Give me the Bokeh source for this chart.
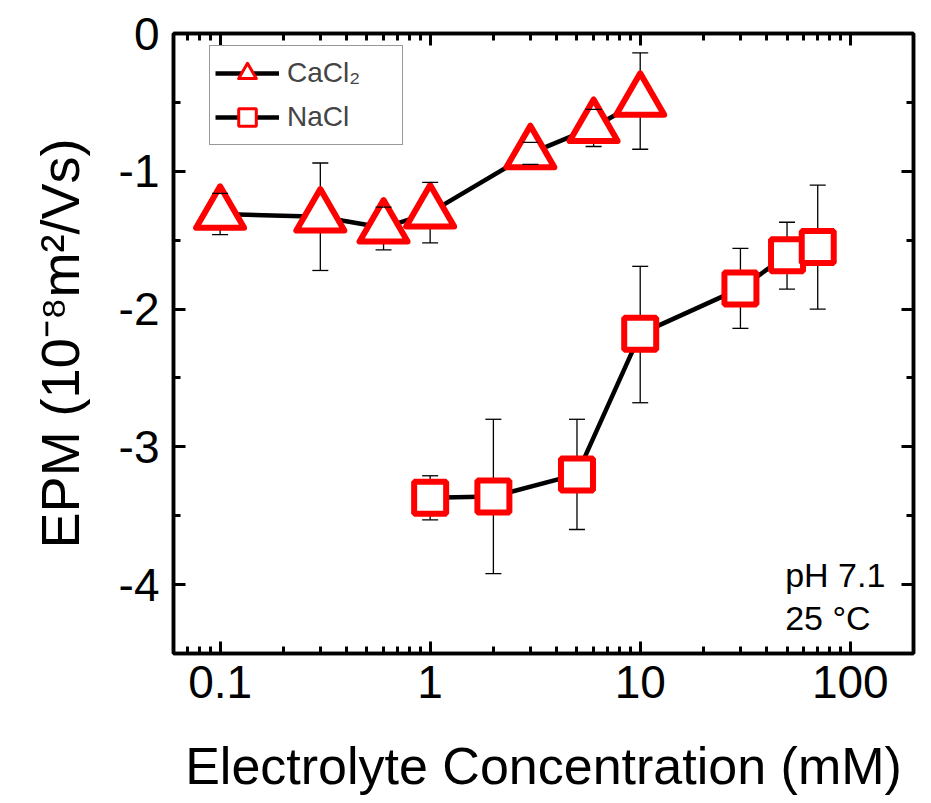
from bokeh.plotting import figure
from bokeh.models import (LogAxis, LinearAxis, FixedTicker, CustomJSTickFormatter,
                          Legend, LegendItem, Label, Range1d)
from bokeh.embed import file_html
from bokeh.resources import INLINE

# ---- data ----
ca_x = [0.1, 0.3, 0.6, 1, 3, 6, 10]
ca_y = [-1.31, -1.33, -1.41, -1.30, -0.87, -0.68, -0.49]
ca_hi = [-1.16, -0.94, -1.26, -1.08, -0.79, -0.55, -0.14]
ca_lo = [-1.46, -1.72, -1.57, -1.52, -0.95, -0.82, -0.84]

na_x = [1, 2, 5, 10, 30, 50, 70]
na_y = [-3.37, -3.36, -3.20, -2.18, -1.85, -1.61, -1.55]
na_hi = [-3.21, -2.80, -2.80, -1.69, -1.56, -1.37, -1.10]
na_lo = [-3.53, -3.92, -3.60, -2.68, -2.14, -1.855, -2.00]

x_major = [0.1, 1, 10, 100]
x_minor = [m * 10.0 ** e for e in range(-2, 3) for m in range(2, 10)]
y_major = [0, -1, -2, -3, -4]
y_minor = [-0.5, -1.5, -2.5, -3.5, -4.5]

FONT = "Liberation Sans"

p = figure(width=931, height=803, x_axis_type="log",
           x_range=Range1d(0.06, 200), y_range=Range1d(-4.5, 0),
           output_backend="svg", toolbar_location=None,
           min_border_left=173, min_border_right=18,
           min_border_top=33, min_border_bottom=150)
p.xgrid.visible = False
p.ygrid.visible = False
p.outline_line_color = "black"
p.outline_line_width = 3.5
p.background_fill_color = "white"
p.border_fill_color = "white"

xticker = FixedTicker(ticks=x_major, minor_ticks=x_minor)
yticker = FixedTicker(ticks=y_major, minor_ticks=y_minor)
xfmt = CustomJSTickFormatter(code="return String(Number(tick.toPrecision(3)));")
yfmt = CustomJSTickFormatter(code="return String(Math.round(tick));")
blank = CustomJSTickFormatter(code="return ' ';")


def style_axis(ax, labels=True):
    ax.axis_line_width = 3.5
    ax.axis_line_color = "black"
    ax.major_tick_in = 12
    ax.major_tick_out = 0
    ax.minor_tick_in = 7
    ax.minor_tick_out = 0
    ax.major_tick_line_width = 3
    ax.minor_tick_line_width = 3
    ax.major_tick_line_color = "black"
    ax.minor_tick_line_color = "black"
    if labels:
        ax.major_label_text_font = FONT
        ax.major_label_text_font_size = "46px"
        ax.major_label_text_color = "black"
        ax.axis_label_text_font = FONT
        ax.axis_label_text_font_style = "normal"
        ax.axis_label_text_color = "black"
    else:
        ax.formatter = blank
        ax.major_label_text_font_size = "2px"
        ax.major_label_text_alpha = 0
        ax.major_label_standoff = 0


xa = p.xaxis[0]
xa.ticker = xticker
xa.formatter = xfmt
style_axis(xa)
xa.major_label_standoff = 12
xa.axis_label = "Electrolyte Concentration (mM)"
xa.axis_label_text_font_size = "52px"
xa.axis_label_standoff = 36

ya = p.yaxis[0]
ya.ticker = yticker
ya.formatter = yfmt
style_axis(ya)
ya.major_label_standoff = 14
ya.axis_label = "EPM (10\u207b\u2078m\u00b2/Vs)"
ya.axis_label_text_font_size = "54px"
ya.axis_label_standoff = 26

top = LogAxis(ticker=xticker)
style_axis(top, labels=False)
p.add_layout(top, "above")
right = LinearAxis(ticker=yticker)
style_axis(right, labels=False)
p.add_layout(right, "right")

RED = "#ff0000"

# error bar stems (under markers)
p.segment(x0=ca_x, y0=ca_lo, x1=ca_x, y1=ca_hi, line_color="black", line_width=1.3)
p.segment(x0=na_x, y0=na_lo, x1=na_x, y1=na_hi, line_color="black", line_width=1.3)

# connecting lines
l_ca = p.line(ca_x, ca_y, line_color="black", line_width=4.5)
l_na = p.line(na_x, na_y, line_color="black", line_width=4.5)

# markers
p.scatter(ca_x, ca_y, marker="triangle", size=48, fill_color="white",
          line_color=RED, line_width=6, line_join="round")
p.scatter(na_x, na_y, marker="square", size=32, fill_color="white",
          line_color=RED, line_width=6)

# caps on top
for xs, ys in ((ca_x, ca_hi), (ca_x, ca_lo), (na_x, na_hi), (na_x, na_lo)):
    p.scatter(xs, ys, marker="dash", size=16, line_color="black", line_width=1.3)

# legend-only marker renderers (hidden)
lg_ca = p.scatter(ca_x, ca_y, marker="triangle", size=20, fill_color="white",
                  line_color=RED, line_width=3, line_join="round", visible=False)
lg_na = p.scatter(na_x, na_y, marker="square", size=20, fill_color="white",
                  line_color=RED, line_width=3, visible=False)

legend = Legend(items=[LegendItem(label="CaCl\u2082", renderers=[l_ca, lg_ca]),
                       LegendItem(label="NaCl", renderers=[l_na, lg_na])],
                location=(36, 508), glyph_width=64, glyph_height=44,
                label_height=44, spacing=0, padding=5, label_standoff=8,
                label_width=110, border_line_color="#333333", border_line_width=1.3,
                label_text_font=FONT, label_text_font_size="28px",
                background_fill_color="white", background_fill_alpha=1)
p.add_layout(legend)

p.add_layout(Label(x=49, y=-3.93, text="pH 7.1", text_font=FONT,
                   text_font_size="34px", text_baseline="alphabetic",
                   text_color="black"))
p.add_layout(Label(x=49, y=-4.24, text="25 \u00b0C", text_font=FONT,
                   text_font_size="34px", text_baseline="alphabetic",
                   text_color="black"))

open("out.html", "w").write(file_html(p, INLINE))
